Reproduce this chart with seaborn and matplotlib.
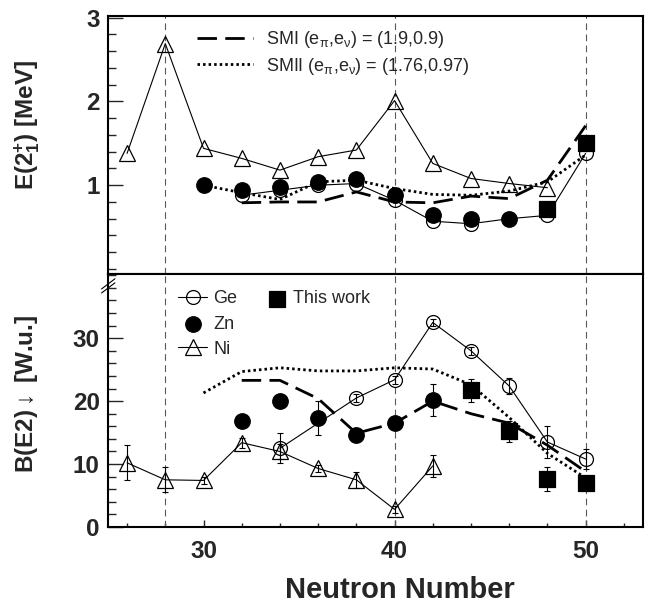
import seaborn as sns
import matplotlib.pyplot as plt
from matplotlib.ticker import MultipleLocator

# ---- E(2+) data [MeV] ----
n_ni_e = [26, 28, 30, 32, 34, 36, 38, 40, 42, 44, 46, 48]
e_ni = [1.38, 2.69, 1.44, 1.32, 1.18, 1.34, 1.42, 2.01, 1.26, 1.08, 1.02, 0.97]

n_ge_e = [32, 34, 36, 38, 40, 42, 44, 46, 48, 50]
e_ge = [0.88, 0.94, 1.00, 1.02, 0.82, 0.57, 0.54, 0.60, 0.64, 1.38]

n_zn_e = [30, 32, 34, 36, 38, 40, 42, 44, 46]
e_zn = [1.00, 0.94, 0.98, 1.04, 1.07, 0.88, 0.64, 0.60, 0.60]

n_this_e = [48, 50]
e_this = [0.72, 1.50]

n_sm1 = [32, 34, 36, 38, 40, 42, 44, 46, 48, 50]
e_sm1 = [0.79, 0.80, 0.80, 0.92, 0.80, 0.79, 0.87, 0.84, 1.06, 1.71]
n_sm2 = [30, 32, 34, 36, 38, 40, 42, 44, 46, 48, 50]
e_sm2 = [1.00, 0.91, 0.83, 1.04, 1.06, 0.96, 0.89, 0.88, 0.93, 1.04, 1.36]

# ---- B(E2) data [W.u.] ----
n_ni_b = [26, 28, 30, 32, 34, 36, 38, 40, 42]
b_ni = [10.2, 7.5, 7.4, 13.4, 12.0, 9.3, 7.5, 2.8, 9.7]
db_ni = [2.8, 2.0, 0.5, 0.8, 1.2, 0.6, 1.3, 0.6, 1.8]

n_ge_b = [34, 38, 40, 42, 44, 46, 48, 50]
b_ge = [12.5, 20.5, 23.4, 32.5, 28.0, 22.4, 13.5, 10.8]
db_ge = [2.4, 0.6, 0.6, 0.6, 0.6, 1.2, 2.6, 1.6]

n_zn_b = [32, 34, 36, 38, 40, 42]
b_zn = [16.9, 20.0, 17.3, 14.6, 16.5, 20.2]
db_zn = [0.8, 0.8, 2.7, 0.8, 0.8, 2.6]

n_this_b = [44, 46, 48, 50]
b_this = [21.7, 15.2, 7.7, 7.0]
db_this = [1.8, 1.7, 1.9, 1.0]

b_sm1 = [23.3, 23.3, 20.4, 14.9, 16.5, 20.0, 18.0, 16.5, 13.0, 8.8]
b_sm2 = [21.3, 24.7, 25.3, 24.8, 24.8, 25.3, 25.1, 22.6, 17.4, 11.7, 7.8]

shells = [28, 40, 50]

lab_sm1 = r'SMI (e$_{\pi}$,e$_{\nu}$) = (1.9,0.9)'
lab_sm2 = r'SMII (e$_{\pi}$,e$_{\nu}$) = (1.76,0.97)'

sns.set_theme(style='ticks')
plt.rcParams['font.family'] = ['Liberation Sans', 'DejaVu Sans']
plt.rcParams['mathtext.fontset'] = 'custom'
plt.rcParams['mathtext.rm'] = 'Liberation Sans'
plt.rcParams['mathtext.it'] = 'Liberation Sans'
plt.rcParams['mathtext.bf'] = 'Liberation Sans:bold'

fig = plt.figure(figsize=(6.54, 6.03), dpi=100)
ax1 = fig.add_axes([0.1651, 0.5456, 0.818, 0.4279])
ax2 = fig.add_axes([0.1651, 0.1260, 0.818, 0.4196])

dash_sm1 = (0, (7, 3))
dot_sm2 = (0, (0.9, 1.1))

open_kw = dict(color='black', lw=0.8, markerfacecolor='none',
               markeredgecolor='black', markeredgewidth=0.9)

# ---------------- top panel ----------------
ax = ax1
for s in shells:
    ax.axvline(s, color='0.35', lw=0.8, ls=(0, (6, 4)), zorder=1)
sns.lineplot(x=n_ni_e, y=e_ni, ax=ax, marker='^', markersize=11, **open_kw, zorder=3)
sns.lineplot(x=n_ge_e, y=e_ge, ax=ax, marker='o', markersize=10, **open_kw, zorder=3)
sns.lineplot(x=n_sm1, y=e_sm1, ax=ax, color='black', lw=2.0, linestyle=dash_sm1,
             label=lab_sm1, zorder=5)
sns.lineplot(x=n_sm2, y=e_sm2, ax=ax, color='black', lw=2.0, linestyle=dot_sm2,
             label=lab_sm2, zorder=5)
sns.scatterplot(x=n_zn_e, y=e_zn, ax=ax, marker='o', s=125, color='black',
                edgecolor='black', zorder=4)
sns.scatterplot(x=n_this_e, y=e_this, ax=ax, marker='s', s=125, color='black',
                edgecolor='black', zorder=4)

ax.set_xlim(25, 53)
ax.set_ylim(-0.06, 3.02)
ax.set_yticks([1, 2, 3])
ax.yaxis.set_minor_locator(MultipleLocator(0.2))
ax.tick_params(axis='x', which='both', bottom=False, labelbottom=False)
ax.tick_params(axis='y', which='major', direction='in', length=11, width=1,
               labelsize=17.5, pad=6)
ax.tick_params(axis='y', which='minor', direction='in', length=5.5, width=1)
for lbl in ax.get_yticklabels():
    lbl.set_fontweight('bold')
ax.set_xlabel('')
ax.set_ylabel('')
ax.legend(loc='upper left', bbox_to_anchor=(0.166, 0.948), frameon=False,
          fontsize=13, handlelength=3.1, handletextpad=0.75, labelspacing=0.3,
          borderpad=0, borderaxespad=0)

# ---------------- bottom panel ----------------
ax = ax2
for s in shells:
    ax.axvline(s, color='0.35', lw=0.8, ls=(0, (6, 4)), zorder=1)
err_kw = dict(fmt='none', ecolor='black', elinewidth=0.8, capsize=2, capthick=0.8, zorder=2)
ax.errorbar(n_ni_b, b_ni, yerr=db_ni, **err_kw)
ax.errorbar(n_ge_b, b_ge, yerr=db_ge, **err_kw)
ax.errorbar(n_zn_b, b_zn, yerr=db_zn, **err_kw)
ax.errorbar(n_this_b, b_this, yerr=db_this, **err_kw)

sns.lineplot(x=n_ge_b, y=b_ge, ax=ax, marker='o', markersize=10, **open_kw,
             label='Ge', zorder=3)
sns.scatterplot(x=n_zn_b, y=b_zn, ax=ax, marker='o', s=125, color='black',
                edgecolor='black', label='Zn', zorder=4)
sns.lineplot(x=n_ni_b, y=b_ni, ax=ax, marker='^', markersize=11, **open_kw,
             label='Ni', zorder=3)
sns.scatterplot(x=n_this_b, y=b_this, ax=ax, marker='s', s=125, color='black',
                edgecolor='black', label='This work', zorder=4)
sns.lineplot(x=n_sm1, y=b_sm1, ax=ax, color='black', lw=2.0, linestyle=dash_sm1,
             zorder=5, legend=False)
sns.lineplot(x=n_sm2, y=b_sm2, ax=ax, color='black', lw=2.0, linestyle=dot_sm2,
             zorder=5, legend=False)

ax.set_xlim(25, 53)
ax.set_ylim(0, 40.2)
ax.set_yticks([0, 10, 20, 30])
ax.yaxis.set_minor_locator(MultipleLocator(2))
ax.xaxis.set_major_locator(MultipleLocator(10))
ax.xaxis.set_minor_locator(MultipleLocator(2))
ax.tick_params(axis='y', which='major', direction='in', length=11, width=1,
               labelsize=17.5, pad=6)
ax.tick_params(axis='y', which='minor', direction='in', length=5.5, width=1)
ax.tick_params(axis='x', which='major', direction='in', length=5, width=1,
               labelsize=17.5, pad=9)
ax.tick_params(axis='x', which='minor', direction='in', length=3, width=1)
for lbl in ax.get_yticklabels() + ax.get_xticklabels():
    lbl.set_fontweight('bold')
ax.set_xlabel('')
ax.set_ylabel('')

handles, labels = ax.get_legend_handles_labels()
hmap = dict(zip(labels, handles))
leg1 = ax.legend([hmap['Ge'], hmap['Zn'], hmap['Ni']], ['Ge', 'Zn', 'Ni'],
                 loc='upper left', bbox_to_anchor=(0.131, 0.935), frameon=False,
                 fontsize=13, handlelength=1.6, handletextpad=0.35,
                 labelspacing=0.45, borderpad=0, borderaxespad=0)
ax.add_artist(leg1)
ax.legend([hmap['This work']], ['This work'], loc='upper left',
          bbox_to_anchor=(0.299, 0.935), frameon=False, fontsize=13,
          handlelength=1.0, handletextpad=0.4, borderpad=0, borderaxespad=0)

# axis break mark
for dy in (0.0, 0.016):
    ax.plot([-0.012, 0.013], [0.925 + dy, 0.965 + dy], transform=ax.transAxes,
            color='black', lw=0.8, clip_on=False)

for a in (ax1, ax2):
    for sp in a.spines.values():
        sp.set_linewidth(1.5)
        sp.set_color('black')

fig.text(0.041, 0.793, r'E(2$^{\mathbf{+}}_{\mathbf{1}}$) [MeV]', rotation=90,
         ha='center', va='center', fontsize=17.5, fontweight='bold')
fig.text(0.041, 0.347, r'B(E2)$\downarrow$ [W.u.]', rotation=90,
         ha='center', va='center', fontsize=17.5, fontweight='bold')
fig.text(0.612, 0.0216, 'Neutron Number', ha='center', va='center',
         fontsize=21, fontweight='bold')

fig.savefig('out.png', dpi=100)
